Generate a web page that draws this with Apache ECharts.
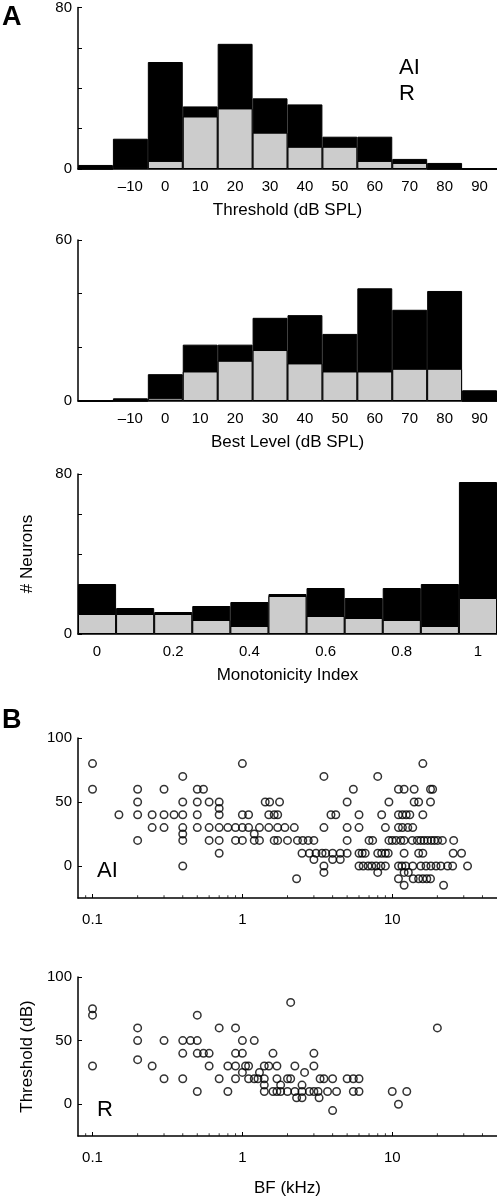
<!DOCTYPE html>
<html><head><meta charset="utf-8">
<script src="https://cdn.jsdelivr.net/npm/echarts@6/dist/echarts.min.js"></script>
<style>html,body{margin:0;padding:0;background:#fff}#c{width:497px;height:1199px}</style>
</head><body><div id="c"></div>
<script>
// ---------- DATA ----------
const levelBins = [-20,-10,0,10,20,30,40,50,60,70,80,90];
const levelLabels = ['','\u201310','0','10','20','30','40','50','60','70','80','90'];
const thresholdAI = [2,15,53,31,62,35,32,16,16,5,3,0];
const thresholdR  = [0,1,4,26,30,18,11,11,4,3,0,0];
const bestLevelAI = [0,1,10,21,21,31,32,25,42,34,41,4];
const bestLevelR  = [0,0,1,11,15,19,14,11,11,12,12,0];
const monoBins   = [0,0.1,0.2,0.3,0.4,0.5,0.6,0.7,0.8,0.9,1.0];
const monoLabels = ['0','','0.2','','0.4','','0.6','','0.8','','1'];
const monoAI = [25,13,11,14,16,20,23,18,23,25,76];
const monoR  = [10,10,10,7,4,19,9,8,7,4,18];
const logMajorLabels = [0.1, 1, 10];
const logMinorTicks = [0.09,0.2,0.3,0.4,0.5,0.6,0.7,0.8,0.9,2,3,4,5,6,7,8,9,20,30,40];
const thrTickValues = [0, 50, 100];

// AI: [BF kHz, threshold dB]
const aiPoints = [
 [0.1,80],[1.0,80],[16,80],
 [0.4,70],[3.5,70],[8.0,70],
 [0.1,60],[0.2,60],[0.3,60],[0.5,60],[0.55,60],[5.5,60],[11,60],[12,60],[14,60],[18,60],[18.6,60],
 [0.2,50],[0.4,50],[0.5,50],[0.6,50],[0.7,50],[1.42,50],[1.52,50],[1.77,50],[5.0,50],[9.5,50],[14,50],[15,50],[18,50],
 [0.7,45],
 [0.15,40],[0.2,40],[0.25,40],[0.3,40],[0.35,40],[0.4,40],[0.5,40],[0.7,40],[1.0,40],[1.1,40],[1.5,40],[1.63,40],[1.72,40],[3.9,40],[4.2,40],[6.0,40],[8.5,40],[11,40],[11.7,40],[12.4,40],[13.1,40],[16,40],
 [0.25,30],[0.3,30],[0.4,30],[0.5,30],[0.6,30],[0.7,30],[0.8,30],[0.9,30],[1.0,30],[1.1,30],[1.3,30],[1.5,30],[1.72,30],[1.92,30],[2.22,30],[3.5,30],[5.0,30],[6.0,30],[9.0,30],[11,30],[11.7,30],[12.7,30],[13.7,30],
 [0.4,25],[1.2,25],
 [0.2,20],[0.4,20],[0.6,20],[0.7,20],[0.9,20],[1.0,20],[1.2,20],[1.3,20],[1.63,20],[1.72,20],[2.0,20],[2.33,20],[2.53,20],[2.75,20],[3.0,20],[5.0,20],[7.0,20],[7.4,20],[9.5,20],[10,20],[10.6,20],[11.4,20],[12,20],[13.6,20],[14.7,20],[15.5,20],[16.3,20],[17.2,20],[18.2,20],[19.1,20],[20.1,20],[21.6,20],[25.7,20],
 [0.7,10],[2.5,10],[2.8,10],[3.1,10],[3.4,10],[3.6,10],[4.0,10],[4.5,10],[5.0,10],[6.0,10],[6.3,10],[6.6,10],[8.0,10],[8.5,10],[9.0,10],[9.4,10],[12,10],[15,10],[16,10],[25.5,10],[29,10],
 [3.0,5],[4.0,5],[4.5,5],
 [0.4,0],[3.5,0],[6.0,0],[6.4,0],[6.9,0],[7.3,0],[7.8,0],[8.4,0],[9.0,0],[11,0],[11.6,0],[12.3,0],[13.7,0],[15.5,0],[16.8,0],[18.1,0],[19.6,0],[21.1,0],[23.4,0],[25.3,0],[31.8,0],
 [3.5,-5],[8.0,-5],[12,-5],[12.8,-5],
 [2.3,-10],[11,-10],[13.8,-10],[15,-10],[16,-10],[17,-10],[18,-10],
 [12,-15],[22,-15]
];
// R: [BF kHz, threshold dB]
const rPoints = [
 [0.1,75],[0.1,70],[0.1,30],
 [0.2,60],[0.2,50],[0.2,35],
 [0.25,30],
 [0.3,50],[0.3,20],
 [0.4,50],[0.4,40],[0.4,20],
 [0.45,50],
 [0.5,70],[0.5,50],[0.5,40],[0.5,10],
 [0.55,40],
 [0.6,40],[0.6,30],
 [0.7,60],[0.7,20],
 [0.8,30],[0.8,10],
 [0.9,60],[0.9,40],[0.9,30],[0.9,20],
 [1.0,50],[1.0,40],[1.0,25],
 [1.05,30],[1.1,30],[1.1,20],
 [1.2,50],[1.2,20],[1.27,20],
 [1.3,25],
 [1.4,30],[1.4,20],[1.4,15],[1.4,10],
 [1.5,30],
 [1.6,40],[1.6,10],
 [1.7,30],[1.7,20],[1.7,10],
 [1.8,15],[1.8,10],
 [2.0,20],[2.1,20],[2.0,10],
 [2.1,80],
 [2.24,30],[2.24,10],[2.3,5],
 [2.5,15],[2.5,10],[2.5,5],
 [2.6,25],
 [2.8,10],
 [3.0,40],[3.0,30],[3.0,10],
 [3.3,20],[3.5,20],[3.2,10],[3.25,5],
 [3.7,10],
 [4.0,20],[4.0,-5],[4.25,10],
 [5.0,20],[5.5,20],[6.0,20],
 [5.5,10],[6.0,10],
 [10,10],[11,0],[12.5,10],
 [20,60]
];

// ---------- CHART ----------
const FONT = "'Liberation Sans', Arial, Helvetica, sans-serif";
const BLACK = '#000';
const GRAY = '#cccccc';
const lineSty = {color: BLACK, width: 1.5};
const txt = (size) => ({fontSize: size, color: BLACK, fontFamily: FONT});

const grids = [
  {left: 78, width: 419, top: 7, height: 162},
  {left: 78, width: 419, top: 240, height: 161},
  {left: 78, width: 419, top: 474, height: 160},
  {left: 78, width: 419, top: 738, height: 160},
  {left: 78, width: 419, top: 977, height: 159}
];

function histX(idx, cats, labels, name) {
  return {
    gridIndex: idx, type: 'category', data: cats, boundaryGap: true,
    axisLine: {show: true, lineStyle: lineSty}, axisTick: {show: false},
    axisLabel: Object.assign({interval: 0, margin: 10, formatter: (v, i) => labels[i]}, txt(15)),
    splitLine: {show: false},
    name: name, nameLocation: 'middle', nameGap: 33, nameTextStyle: txt(17)
  };
}
function histY(idx, max, name) {
  return {
    gridIndex: idx, type: 'value', min: 0, max: max, interval: 20,
    axisLine: {show: true, lineStyle: lineSty},
    axisTick: {show: true, inside: true, length: 4, lineStyle: {color: BLACK, width: 1}},
    axisLabel: Object.assign({margin: 6, formatter: v => (v === 0 || v === max) ? String(v) : ''}, txt(15)),
    splitLine: {show: false},
    name: name || '', nameLocation: 'middle', nameGap: 42, nameRotate: 90, nameTextStyle: txt(17)
  };
}
function logX(idx, name) {
  return {
    gridIndex: idx, type: 'log', logBase: 10, min: 0.08, max: 50,
    axisLine: {show: true, onZero: false, lineStyle: lineSty},
    axisTick: {show: true, inside: true, length: 4, lineStyle: {color: BLACK, width: 1}},
    axisLabel: Object.assign({margin: 14, showMinLabel: false, showMaxLabel: false,
      formatter: v => logMajorLabels.some(m => Math.abs(m - v) < 1e-9) ? String(v) : ''}, txt(15)),
    splitLine: {show: false}, minorTick: {show: false},
    name: name || '', nameLocation: 'middle', nameGap: 44, nameTextStyle: txt(17)
  };
}
function thrY(idx, name) {
  return {
    gridIndex: idx, type: 'value', min: -25, max: 100,
    axisLine: {show: true, onZero: false, lineStyle: lineSty},
    axisTick: {show: true, inside: true, length: 4, customValues: thrTickValues, lineStyle: {color: BLACK, width: 1}},
    axisLabel: Object.assign({margin: 6, customValues: thrTickValues}, txt(15)),
    splitLine: {show: false},
    name: name || '', nameLocation: 'middle', nameGap: 42, nameRotate: 90, nameTextStyle: txt(17)
  };
}
function barPair(idx, a, r) {
  return [
    {name: 'AI', type: 'bar', xAxisIndex: idx, yAxisIndex: idx, data: a, barWidth: '100%', barGap: '-100%',
     itemStyle: {color: BLACK, borderColor: BLACK, borderWidth: 1}, silent: true, animation: false},
    {name: 'R', type: 'bar', xAxisIndex: idx, yAxisIndex: idx, data: r, barWidth: '100%', barGap: '-100%',
     itemStyle: {color: GRAY, borderColor: BLACK, borderWidth: 1}, silent: true, animation: false}
  ];
}
function scatterSeries(idx, pts, name) {
  return [
    {name: name, type: 'scatter', xAxisIndex: idx, yAxisIndex: idx, data: pts, symbol: 'circle', symbolSize: 7.5,
     itemStyle: {color: 'rgba(255,255,255,0)', borderColor: BLACK, borderWidth: 1.5}, silent: true, animation: false},
    {name: 'minor ticks', type: 'scatter', xAxisIndex: idx, yAxisIndex: idx,
     data: logMinorTicks.map(v => [v, -25]), symbol: 'rect', symbolSize: [1, 2.5], symbolOffset: [0, -1.5],
     itemStyle: {color: BLACK}, clip: false, silent: true, animation: false}
  ];
}

const labelText = (x, y, text, size, weight) => ({
  type: 'text', x: x, y: y,
  style: {text: text, fontSize: size, fontWeight: weight || 'normal', fontFamily: FONT, fill: BLACK, verticalAlign: 'middle'}
});

const option = {
  backgroundColor: '#fff',
  animation: false,
  grid: grids,
  xAxis: [
    histX(0, levelBins, levelLabels, 'Threshold (dB SPL)'),
    histX(1, levelBins, levelLabels, 'Best Level (dB SPL)'),
    histX(2, monoBins, monoLabels, 'Monotonicity Index'),
    logX(3, ''),
    logX(4, 'BF (kHz)')
  ],
  yAxis: [
    histY(0, 80),
    histY(1, 60),
    histY(2, 80, '# Neurons'),
    thrY(3, ''),
    thrY(4, 'Threshold (dB)')
  ],
  series: [].concat(
    barPair(0, thresholdAI, thresholdR),
    barPair(1, bestLevelAI, bestLevelR),
    barPair(2, monoAI, monoR),
    scatterSeries(3, aiPoints, 'AI'),
    scatterSeries(4, rPoints, 'R')
  ),
  graphic: [
    labelText(2, 18, 'A', 27, 'bold'),
    labelText(399, 68, 'AI', 22),
    labelText(399, 94, 'R', 22),
    labelText(2, 721, 'B', 27, 'bold'),
    labelText(97, 871, 'AI', 22),
    labelText(97, 1110, 'R', 22)
  ]
};
const chart = echarts.init(document.getElementById('c'), null, {renderer: 'canvas'});
chart.setOption(option);
</script>
</body></html>
